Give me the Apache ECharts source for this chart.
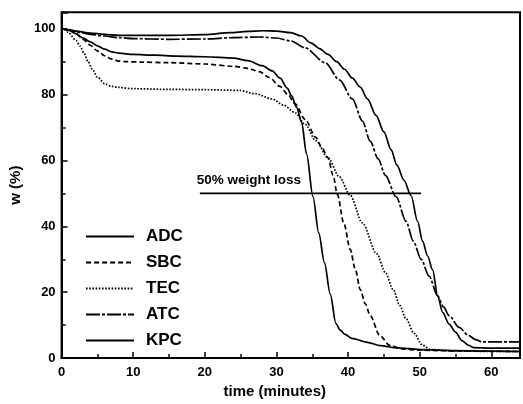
<!DOCTYPE html>
<html>
<head>
<meta charset="utf-8">
<script src="https://cdn.jsdelivr.net/npm/echarts@6/dist/echarts.min.js"></script>
<style>html,body{margin:0;padding:0;background:#fff}#c{width:523px;height:404px}</style>
</head>
<body>
<div id="c"></div>
<script>
// ---- data ----
const seriesNames = ['ADC', 'SBC', 'TEC', 'ATC', 'KPC'];
const xTicks = [0, 10, 20, 30, 40, 50, 60];
const yTicks = [0, 20, 40, 60, 80, 100];

const adcTime = [0,1,2,3,4,5,6,7,8,10,13,16,20,24,26,28,29.4,30.5,31.5,32.1,32.8,33.5,34.2,35.1,35.9,36.7,37.5,38.3,38.9,39.5,40.5,42.7,44.5,46.8,50,55,60,64];
const adcW    = [100,99.6,98.5,97.2,96,94.8,93.8,93,92.6,92.2,92,91.7,91.5,91.1,90.3,88.8,87.2,85,82,79.7,76.2,71.7,62,49,38,29,19.5,10.5,8.5,7.3,6,4.8,3.8,3.1,2.6,2.3,2.1,2];

const sbcTime = [0,1,2,3,4,5,6,7,8,9,11,15,20,24,26,27.6,29,30.5,31.6,32.6,34,35.5,36.3,37.2,37.9,38.5,39.4,40.3,41,41.7,42.4,43.1,44.4,45.8,47.5,50,55,60,64];
const sbcW    = [100,99.7,98.5,96.8,95,93.3,91.8,90.8,90.2,90,89.9,89.7,89.3,88.6,88,87,85.2,82.5,80,77.2,72.5,67,64,60.8,55.5,49.7,41,33,27,20.8,16.5,12.9,6.9,3.9,2.8,2.4,2.2,2.1,2];

const tecTime = [0,0.5,1,2,2.6,3.1,3.7,4.3,5,6.1,7,7.9,10,15,20,24.8,27,29.4,31,32.6,34,35.5,37.2,38.8,40.3,42,44,45.2,46.3,47.2,48.1,49.2,50.4,51.5,55,60,64];
const tecW    = [100,99.8,98.7,96.5,94.7,92.7,90,87.7,85.3,83.2,82.5,82.2,81.8,81.6,81.5,81.3,80.3,78.7,76.8,74.5,71,66,60.8,55,49.4,41,31.7,26,20.8,16,11.9,7.5,3.9,2.6,2.2,2,2];

const atcTime = [0,1,2,4,6,8,10,15,20,24,27.6,30,32,34,36.8,38.8,40.6,42,43.1,44.2,45.2,46.7,48.1,49.1,50.2,51.3,52.5,53.3,54.1,55.5,56.8,57.8,58.7,60,64];
const atcW    = [100,99.6,99.1,98.3,97.8,97.3,97,96.8,96.9,97.3,97.5,97.2,96.3,94.2,89.7,84.5,78.7,72,65.8,60.5,55.5,49,41.5,35.5,30,24.9,18.9,15.6,12.9,9.3,6.9,5.6,4.9,4.9,4.9];

const kpcTime = [0,1,2,4,6,8,10,15,20,23.5,26,28,30,32,33.5,34.8,36,37.2,38.4,39.5,40.6,41.7,42.7,43.9,45,46,46.8,47.8,48.8,49.7,50.4,51.1,51.8,52.5,53.2,54.1,55,55.9,56.8,57.5,60,64];
const kpcW    = [100,99.7,99.3,98.7,98.3,98,98,98,98.2,98.8,99.2,99.4,99.3,98.8,97.8,95.7,94,92.2,90,87.7,85,82.3,78.7,73.7,68.7,63.3,58.7,54,49.3,41.5,35.5,31,26.8,18.9,13.9,10.3,7.9,5.3,3.9,3.2,3,3];

const refTime = [19.3, 50.2];
const refW    = [50, 50];
const refLabel = '50% weight loss';

// ---- chart ----
const pair = (xs, ys) => xs.map((x, i) => [x, ys[i]]);
const FONT = '"Liberation Sans", Arial, sans-serif';
const dashes = { ADC: 'solid', SBC: [5, 3], TEC: [1.6, 1.6], ATC: [14, 2, 3, 2], KPC: 'solid' };
const dataMap = {
  ADC: pair(adcTime, adcW), SBC: pair(sbcTime, sbcW), TEC: pair(tecTime, tecW),
  ATC: pair(atcTime, atcW), KPC: pair(kpcTime, kpcW)
};

const series = seriesNames.map(n => ({
  name: n, type: 'line', data: dataMap[n], symbol: 'none', smooth: 0.3, smoothMonotone: 'x',
  lineStyle: { color: '#000', width: 1.7, type: dashes[n] },
  itemStyle: { color: '#000' }, z: 3
}));

const refData = pair(refTime, refW).map((p, i) => i === 0 ? {
  value: p,
  label: { show: true, formatter: refLabel, position: 'top', align: 'left', offset: [-3, -1],
           color: '#000', fontFamily: FONT, fontSize: 13.5, fontWeight: 'bold' }
} : { value: p });
series.push({
  name: 'ref', type: 'line', data: refData, symbol: 'circle', symbolSize: 1,
  itemStyle: { color: 'rgba(0,0,0,0)' },
  lineStyle: { color: '#000', width: 1.8 }, z: 3
});

const chart = echarts.init(document.getElementById('c'), null, { renderer: 'canvas' });
chart.setOption({
  animation: false,
  backgroundColor: '#fff',
  grid: { left: 59, right: -2, top: 12.3, bottom: 41, show: true, borderColor: '#000', borderWidth: 2, containLabel: false },
  legend: {
    data: seriesNames, orient: 'vertical', left: 80, top: 223, itemWidth: 48, itemHeight: 14, itemGap: 9,
    itemStyle: { opacity: 0 },
    textStyle: { color: '#000', fontFamily: FONT, fontSize: 17, fontWeight: 'bold', lineHeight: 17, padding: [0, 0, 0, 7] },
    selectedMode: false
  },
  xAxis: {
    type: 'value', min: 0, max: 64, interval: 10,
    name: 'time (minutes)', nameLocation: 'middle', nameGap: 25,
    nameTextStyle: { color: '#000', fontFamily: FONT, fontSize: 15, fontWeight: 'bold', padding: [0, 32, 0, 0] },
    axisLine: { lineStyle: { color: '#000', width: 2 } },
    axisTick: { inside: true, length: 6, lineStyle: { color: '#000', width: 1.5 } },
    minorTick: { show: true, splitNumber: 2, length: 4, lineStyle: { color: '#000', width: 1.5 } },
    splitLine: { show: false },
    axisLabel: { color: '#000', fontFamily: FONT, fontSize: 13, fontWeight: 'bold', margin: 8,
                 formatter: v => (xTicks.includes(v) ? String(v) : '') }
  },
  yAxis: {
    type: 'value', min: 0, max: 105, interval: 20,
    name: 'w (%)', nameLocation: 'middle', nameGap: 36, nameRotate: 90,
    nameTextStyle: { color: '#000', fontFamily: FONT, fontSize: 15, fontWeight: 'bold' },
    axisLine: { lineStyle: { color: '#000', width: 2 } },
    axisTick: { inside: true, length: 6, lineStyle: { color: '#000', width: 1.5 } },
    minorTick: { show: true, splitNumber: 2, length: 4, lineStyle: { color: '#000', width: 1.5 } },
    splitLine: { show: false },
    axisLabel: { color: '#000', fontFamily: FONT, fontSize: 13, fontWeight: 'bold', margin: 6,
                 formatter: v => (yTicks.includes(v) ? String(v) : '') }
  },
  series: series
});
</script>
</body>
</html>
